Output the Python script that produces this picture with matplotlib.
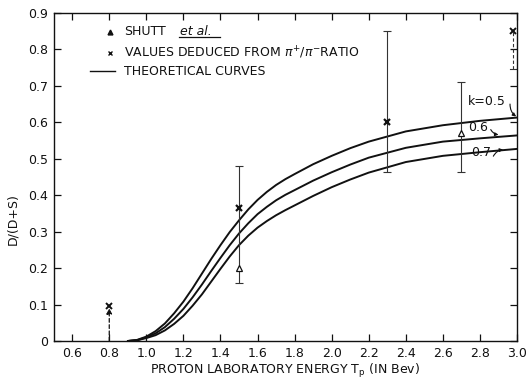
import matplotlib
matplotlib.use("Agg")
import matplotlib.pyplot as plt

# Theoretical curves D/(D+S) vs proton lab energy for three k values
energy = [0.90, 0.95, 1.00, 1.05, 1.10, 1.15, 1.20, 1.25, 1.30, 1.35, 1.40,
          1.45, 1.50, 1.55, 1.60, 1.65, 1.70, 1.75, 1.80, 1.90, 2.00, 2.10,
          2.20, 2.40, 2.60, 2.80, 3.00]
curve_k05 = [0.000, 0.003, 0.012, 0.027, 0.048, 0.076, 0.108, 0.145, 0.185,
             0.225, 0.263, 0.299, 0.331, 0.361, 0.387, 0.409, 0.428, 0.444,
             0.458, 0.485, 0.508, 0.529, 0.547, 0.575, 0.592, 0.604, 0.613]
curve_k06 = [0.000, 0.002, 0.010, 0.021, 0.038, 0.061, 0.088, 0.120, 0.155,
             0.192, 0.228, 0.263, 0.295, 0.323, 0.348, 0.368, 0.386, 0.401,
             0.414, 0.440, 0.463, 0.484, 0.503, 0.530, 0.547, 0.556, 0.564]
curve_k07 = [0.000, 0.002, 0.008, 0.016, 0.029, 0.047, 0.069, 0.097, 0.128,
             0.163, 0.198, 0.232, 0.263, 0.289, 0.311, 0.329, 0.345, 0.359,
             0.372, 0.398, 0.422, 0.443, 0.462, 0.491, 0.508, 0.518, 0.527]

# Values deduced from the pi+/pi- ratio
pion_T = [1.5, 2.3]
pion_val = [0.365, 0.60]
# Limits (dashed)
limit_T = [0.8, 2.98]
limit_val = [0.095, 0.85]
limit_end = [0.0, 0.745]

# Shutt et al.
shutt_T = [1.5, 2.7]
shutt_val = [0.20, 0.57]

# Error bars
err_T = [1.5, 2.3, 2.7]
err_lo = [0.158, 0.465, 0.463]
err_hi = [0.479, 0.850, 0.710]

xticks = [0.6, 0.8, 1.0, 1.2, 1.4, 1.6, 1.8, 2.0, 2.2, 2.4, 2.6, 2.8, 3.0]
xticklabels = ["0.6", "0.8", "1.0", "1.2", "1.4", "1.6", "1.8", "2.0", "2.2",
               "2.4", "2.6", "2.8", "3.0"]
yticks = [0, 0.1, 0.2, 0.3, 0.4, 0.5, 0.6, 0.7, 0.8, 0.9]
yticklabels = ["0", "0.1", "0.2", "0.3", "0.4", "0.5", "0.6", "0.7", "0.8", "0.9"]

plt.rcParams["font.family"] = ["DejaVu Sans"]
plt.rcParams["mathtext.fontset"] = "dejavusans"

fig = plt.figure(figsize=(5.26, 3.81), dpi=100)
ax = fig.add_axes([0.102, 0.105, 0.881, 0.861])
ink = "#111111"

for ys in (curve_k05, curve_k06, curve_k07):
    ax.plot(energy, ys, color=ink, lw=1.4, solid_capstyle="round",
            solid_joinstyle="round")

span = [h - l for h, l in zip(err_hi, err_lo)]
ax.errorbar(err_T, err_lo, yerr=[[0] * len(err_lo), span], fmt="none",
            ecolor="#333333", elinewidth=0.8, capsize=3, capthick=0.8)

ax.plot(pion_T, pion_val, ls="none", marker="x", ms=5, mew=1.6, color=ink)
ax.plot(limit_T, limit_val, ls="none", marker="x", ms=4.5, mew=1.4, color=ink)
# dashed limit lines
ax.annotate("", xy=(limit_T[0], limit_val[0] - 0.005),
            xytext=(limit_T[0], limit_end[0]),
            arrowprops=dict(arrowstyle="-|>", ls=(0, (3, 2)), lw=0.9, color=ink,
                            mutation_scale=8, shrinkA=0, shrinkB=0))
ax.plot([limit_T[1], limit_T[1]], [limit_end[1], limit_val[1]], ls=(0, (3, 2)),
        lw=0.8, color="#333333")
ax.plot([limit_T[1] - 0.02, limit_T[1] + 0.02], [limit_end[1], limit_end[1]],
        lw=0.8, color="#333333")

ax.plot(shutt_T, shutt_val, ls="none", marker="^", ms=4, mew=0.9,
        mfc="white", mec=ink)

# curve labels with leaders
ax.text(2.736, 0.657, "k=0.5", fontsize=9, va="center", ha="left", color=ink)
ax.annotate("", xy=(2.995, 0.616), xytext=(2.962, 0.650),
            arrowprops=dict(arrowstyle="-|>", lw=0.8, color=ink, mutation_scale=5,
                            connectionstyle="arc3,rad=0.25", shrinkA=0, shrinkB=0))
ax.text(2.736, 0.586, "0.6", fontsize=9, va="center", ha="left", color=ink)
ax.annotate("", xy=(2.900, 0.566), xytext=(2.858, 0.580),
            arrowprops=dict(arrowstyle="-|>", lw=0.8, color=ink, mutation_scale=5,
                            connectionstyle="arc3,rad=0.25", shrinkA=0, shrinkB=0))
ax.text(2.752, 0.516, "0.7", fontsize=9, va="center", ha="left", color=ink)
ax.annotate("", xy=(2.925, 0.525), xytext=(2.872, 0.507),
            arrowprops=dict(arrowstyle="-|>", lw=0.8, color=ink, mutation_scale=5,
                            connectionstyle="arc3,rad=-0.25", shrinkA=0, shrinkB=0))

# key
ax.plot([0.804], [0.848], ls="none", marker="^", ms=3.5, color=ink)
ax.text(0.881, 0.848, "SHUTT", fontsize=9, va="center", ha="left", color=ink)
ax.text(1.18, 0.848, "et al.", fontsize=9, va="center", ha="left",
        style="italic", color=ink)
ax.plot([1.176, 1.398], [0.834, 0.834], lw=0.9, color=ink)
ax.plot([0.804], [0.790], ls="none", marker="x", ms=3.5, mew=1.0, color=ink)
ax.text(0.881, 0.790, r"VALUES DEDUCED FROM $\pi^{+}/\pi^{-}$RATIO", fontsize=9,
        va="center", ha="left", color=ink)
ax.plot([0.695, 0.83], [0.74, 0.74], lw=1.0, color=ink)
ax.text(0.881, 0.740, "THEORETICAL CURVES", fontsize=9, va="center", ha="left",
        color=ink)

ax.set_xlim(0.5, 3.0)
ax.set_ylim(0, 0.9)
ax.set_xticks(xticks)
ax.set_xticklabels(xticklabels)
ax.set_yticks(yticks)
ax.set_yticklabels(yticklabels)
ax.tick_params(direction="in", length=5, width=0.9, top=True, right=True,
               labelsize=9, colors=ink, pad=4)
for s in ax.spines.values():
    s.set_linewidth(1.0)
    s.set_color(ink)

ax.set_xlabel(r"PROTON LABORATORY ENERGY T$_{\rm p}$ (IN Bev)", fontsize=9,
              color=ink, labelpad=2)
ax.set_ylabel("D/(D+S)", fontsize=9, color=ink)
ax.yaxis.set_label_coords(-0.075, 0.372)

fig.savefig("out.png", dpi=100)
